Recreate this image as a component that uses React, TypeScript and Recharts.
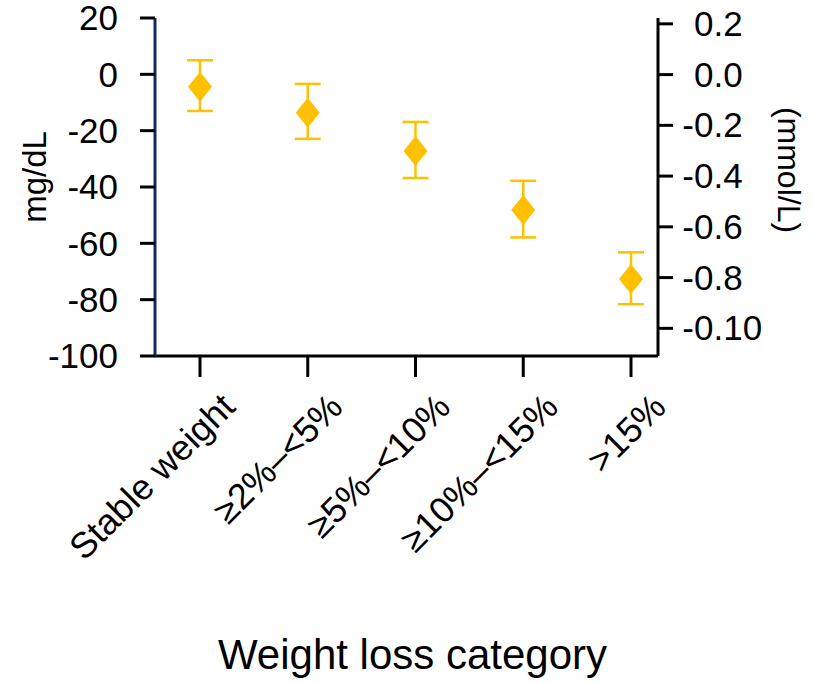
import React from 'react'
import { ComposedChart, Scatter, ErrorBar, XAxis, YAxis } from 'recharts'

const CATEGORIES = ['Stable weight', '≥2%–<5%', '≥5%–<10%', '≥10%–<15%', '>15%']
const MEANS = [-4.4, -13.6, -27.2, -48.2, -72.7]
const UPPER = [5.0, -3.4, -16.9, -37.8, -63.2]
const LOWER = [-13.0, -22.9, -36.8, -57.9, -81.6]

const LEFT_TICKS = [20, 0, -20, -40, -60, -80, -100]
const RIGHT_TICKS = [0.2, 0, -0.2, -0.4, -0.6, -0.8, -1.0]
const RIGHT_LABELS = ['0.2', '0.0', '-0.2', '-0.4', '-0.6', '-0.8', '-0.10']

const FONT = '"Liberation Sans", Arial, sans-serif'
const GOLD = '#FFC000'

const data = CATEGORIES.map((category, i) => ({
  category,
  mean: MEANS[i],
  err: [MEANS[i] - LOWER[i], UPPER[i] - MEANS[i]],
}))

const Diamond = (props: any) => {
  const { cx, cy } = props
  if (cx == null || cy == null) return null
  return <path d={`M${cx},${cy - 15}L${cx + 12},${cy}L${cx},${cy + 15}L${cx - 12},${cy}Z`} fill={GOLD} />
}

const XTick = ({ x, y, payload }: any) => (
  <g transform={`translate(${x},${y})`}>
    <text x={37} y={30} textAnchor="end" transform="rotate(-45 37 30)" fontSize={36} fontFamily={FONT} fill="#000">
      {payload.value}
    </text>
  </g>
)

const RightTick = ({ x, y, index }: any) => {
  const label = RIGHT_LABELS[index] ?? ''
  const neg = label.startsWith('-')
  const body = neg ? label.slice(1) : label
  const x0 = x + 19
  return (
    <g>
      {neg && (
        <text x={x0} y={y} dy={12} textAnchor="end" fontSize={35} fontFamily={FONT} fill="#000">-</text>
      )}
      <text x={x0} y={y} dy={12} textAnchor="start" fontSize={35} fontFamily={FONT} fill="#000">{body}</text>
    </g>
  )
}

export default function App() {
  return (
    <div style={{ position: 'absolute', left: 0, top: 0, background: '#fff' }}>
      <ComposedChart width={813} height={683} data={data} margin={{ top: 18, right: 0, bottom: 0, left: 0 }}>
        <XAxis
          dataKey="category"
          type="category"
          scale="point"
          padding={{ left: 45, right: 27 }}
          height={327}
          interval={0}
          axisLine={{ stroke: '#000', strokeWidth: 3 }}
          tickLine={{ stroke: '#000', strokeWidth: 3 }}
          tickSize={21}
          tick={<XTick />}
          label={{ value: 'Weight loss category', position: 'insideBottom', offset: 14, dx: 6, fontSize: 42, fontFamily: FONT, fill: '#000' }}
        />
        <YAxis
          yAxisId="left"
          type="number"
          domain={[-100, 20]}
          ticks={LEFT_TICKS}
          interval={0}
          width={155}
          allowDataOverflow
          axisLine={{ stroke: '#11296b', strokeWidth: 3 }}
          tickLine={{ stroke: '#000', strokeWidth: 3 }}
          tickSize={15}
          tickMargin={22}
          tick={{ fontSize: 35, fontFamily: FONT, fill: '#000' }}
          label={{ value: 'mg/dL', angle: -90, position: 'insideLeft', offset: 34, dy: -10, fontSize: 33, fontFamily: FONT, fill: '#000', style: { textAnchor: 'middle' } }}
        />
        <YAxis
          yAxisId="right"
          orientation="right"
          type="number"
          domain={[-1.109, 0.223]}
          ticks={RIGHT_TICKS}
          interval={0}
          width={155}
          allowDataOverflow
          axisLine={{ stroke: '#000', strokeWidth: 3 }}
          tickLine={{ stroke: '#000', strokeWidth: 3 }}
          tickSize={15}
          tick={<RightTick />}
          label={{ value: '(mmol/L)', angle: 90, position: 'insideRight', offset: 24, dy: -17, fontSize: 32, fontFamily: FONT, fill: '#000', style: { textAnchor: 'middle' } }}
        />
        <Scatter yAxisId="left" dataKey="mean" fill={GOLD} shape={<Diamond />} isAnimationActive={false}>
          <ErrorBar dataKey="err" direction="y" width={13} stroke={GOLD} strokeWidth={2.5} />
        </Scatter>
      </ComposedChart>
    </div>
  )
}
